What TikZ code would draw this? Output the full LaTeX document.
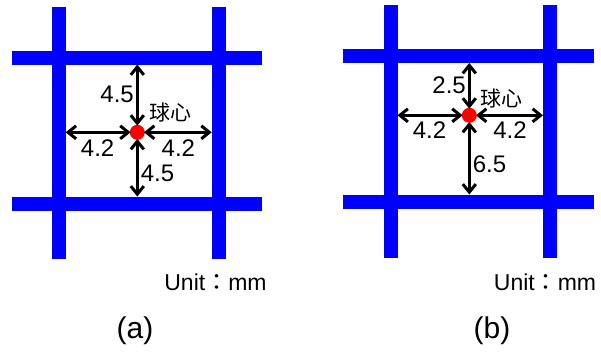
\documentclass[tikz,border=0pt]{standalone}
\usepackage{fontspec}
\setmainfont{Liberation Sans}
\newfontfamily\cjk{Noto Sans CJK TC}
\usetikzlibrary{positioning}
\usetikzlibrary{arrows.meta}
\definecolor{meshblue}{rgb}{0,0,1}
\definecolor{dotred}{rgb}{1,0,0}

\begin{document}
\begin{tikzpicture}[
	x=1pt, y=-1pt,
	bar/.style = {draw=meshblue, line width=14pt},
	ctr/.style = {circle, fill=dotred, minimum size=15pt, inner sep=0pt},
	dim/.style = {{Straight Barb[length=8pt,width=13pt]}-{Straight Barb[length=8pt,width=13pt]}, line width=3pt, shorten <=-1pt},
	num/.style = {font=\fontsize{24}{24}\selectfont, inner sep=2pt},
	lbl/.style = {font=\cjk\fontsize{21}{21}\selectfont, inner sep=0pt},
	unit/.style = {font=\fontsize{23}{23}\selectfont},
	subcap/.style = {font=\fontsize{30}{30}\selectfont}
	]
	\useasboundingbox (0, 0) rectangle (601, 354);
	
	% === === Mesh (a) === ===
	\draw[bar]	(58.7, 6.7)	--	(58.7, 259);
	\draw[bar]	(218.7, 6.7)	--	(218.7, 259);
	\draw[bar]	(12, 57.5)	--	(262, 57.5);
	\draw[bar]	(12, 203.5)	--	(262, 203.5);
	
	% === === Mesh (b) === ===
	\draw[bar]	(390.5, 5)	--	(390.5, 258);
	\draw[bar]	(550, 5)	--	(550, 258);
	\draw[bar]	(343.3, 56)	--	(594.3, 56);
	\draw[bar]	(343.3, 201.5)	--	(594.3, 201.5);
	
	% === === Nodes === ===
	\node[ctr]	(ca)	at	(137.3, 132.3)	{};
	\coordinate	(ca-n)	at	(137.3, 64.5);
	\coordinate	(ca-s)	at	(137.3, 196.5);
	\coordinate	(ca-w)	at	(65.7, 132.3);
	\coordinate	(ca-e)	at	(211.7, 132.3);
	\node[lbl, above right=4pt and 7pt of ca]	(qa)	{球心};
	
	\node[ctr]	(cb)	at	(469.3, 115.3)	{};
	\coordinate	(cb-n)	at	(469.3, 63);
	\coordinate	(cb-s)	at	(469.3, 194.5);
	\coordinate	(cb-w)	at	(397.5, 115.3);
	\coordinate	(cb-e)	at	(543, 115.3);
	\node[lbl, above right=1pt and 6pt of cb]	(qb)	{球心};
	
	\node[unit]	(ua)	at	(215.5, 282.7)	{Unit{\cjk ：}mm};
	\node[unit]	(ub)	at	(545, 282)	{Unit{\cjk ：}mm};
	\node[subcap]	(ta)	at	(135, 331)	{(a)};
	\node[subcap]	(tb)	at	(492, 331)	{(b)};
	
	% === === Lines === ===
	\draw[dim]	(ca)	to	node[num, left]	{4.5}	(ca-n);
	\draw[dim]	(ca)	to	node[num, right, yshift=-5pt]	{4.5}	(ca-s);
	\draw[dim]	(ca)	to	node[num, below, yshift=-4pt]	{4.2}	(ca-w);
	\draw[dim]	(ca)	to	node[num, below, yshift=-4pt]	{4.2}	(ca-e);
	
	\draw[dim]	(cb)	to	node[num, left]	{2.5}	(cb-n);
	\draw[dim]	(cb)	to	node[num, right, yshift=-5pt]	{6.5}	(cb-s);
	\draw[dim]	(cb)	to	node[num, below, yshift=-3pt]	{4.2}	(cb-w);
	\draw[dim]	(cb)	to	node[num, below, yshift=-3pt]	{4.2}	(cb-e);
	
\end{tikzpicture}
\end{document}
